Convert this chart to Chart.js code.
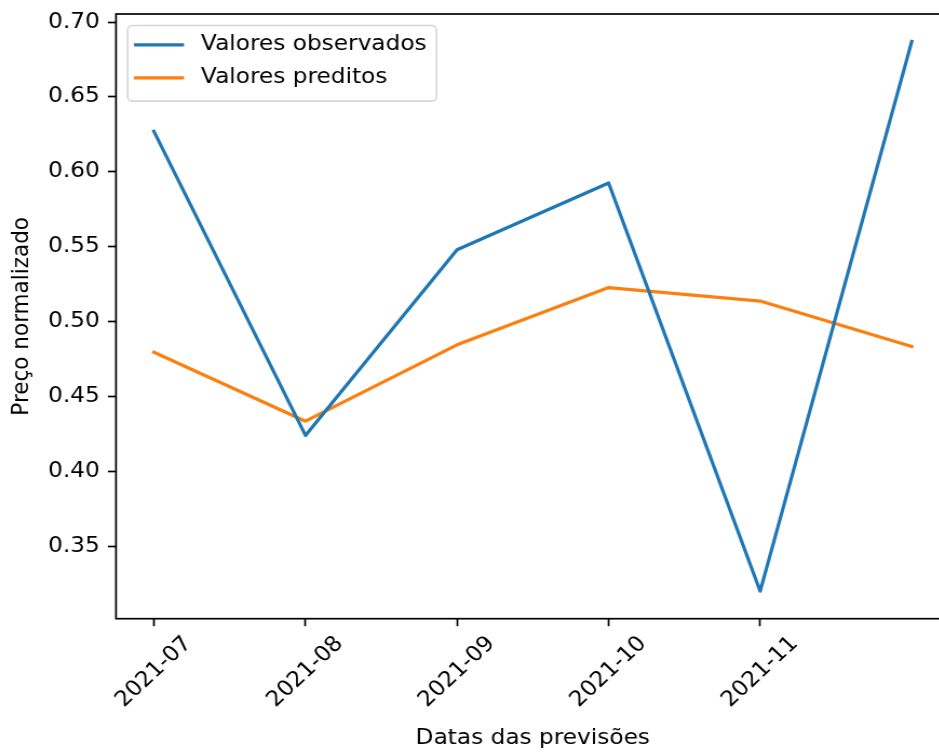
<!DOCTYPE html>
<html>
<head>
<meta charset="utf-8">
<title>Preço normalizado</title>
<script src="https://cdn.jsdelivr.net/npm/chart.js@4/dist/chart.umd.min.js"></script>
<style>
  html, body { margin: 0; padding: 0; background: #fff; overflow: hidden; width: 939px; height: 753px; }
  #wrap { width: 881px; height: 753px; transform: scaleX(1.08); transform-origin: 0 0; }
  canvas { display: block; }
</style>
</head>
<body>
<div id="wrap"><canvas id="c" width="881" height="753"></canvas></div>
<script>
// Monthly forecast dates (one point per month)
const dates = ['2021-07', '2021-08', '2021-09', '2021-10', '2021-11', '2021-12'];
// Labels shown under the x axis
const tickLabels = ['2021-07', '2021-08', '2021-09', '2021-10', '2021-11'];
// Normalized prices
const observed  = [0.627, 0.424, 0.548, 0.5925, 0.320, 0.687];
const predicted = [0.4795, 0.4335, 0.4845, 0.5227, 0.5137, 0.4834];
// Y axis tick values
const yTicks = [0.35, 0.40, 0.45, 0.50, 0.55, 0.60, 0.65, 0.70];

const seriesNames = ['Valores observados', 'Valores preditos'];
const seriesColors = ['#1f77b4', '#ff7f0e'];

const FONT = 'DejaVu Sans';
const FONT_SIZE = 21.5;
const TEXT = '#000000';
const X_ROTATION = 45;

// 5% padding around the data, like the default autoscale margins
function padded(lo, hi) { const m = (hi - lo) * 0.05; return [lo - m, hi + m]; }
const allValues = observed.concat(predicted);
const [yLo, yHi] = padded(Math.min(...allValues), Math.max(...allValues));
const [xLo, xHi] = padded(0, dates.length - 1);

const toPoints = vals => vals.map((v, i) => ({ x: i, y: v }));

// Shift rotated x labels so each one is centred under its tick
const measure = document.createElement('canvas').getContext('2d');
measure.font = FONT_SIZE + 'px "' + FONT + '"';
const xLabelShift = 0.5 * Math.cos(X_ROTATION * Math.PI / 180) * measure.measureText(tickLabels[0]).width;

// Four-sided axes frame
const framePlugin = {
  id: 'frame',
  afterDraw(chart) {
    const { ctx, chartArea: a } = chart;
    ctx.save();
    ctx.strokeStyle = '#000';
    ctx.lineWidth = 1.7;
    ctx.strokeRect(a.left, a.top, a.right - a.left, a.bottom - a.top);
    ctx.restore();
  }
};

// Legend box drawn inside the plot, upper left
const innerLegend = {
  id: 'innerLegend',
  afterDatasetsDraw(chart) {
    const { ctx, chartArea: a } = chart;
    const sets = chart.data.datasets;
    ctx.save();
    ctx.font = FONT_SIZE + 'px "' + FONT + '"';
    const maxW = Math.max(...sets.map(d => ctx.measureText(d.label).width));
    const x0 = a.left + 10.8, y0 = a.top + 11.5;
    const handleX = x0 + 5.9, handleLen = 46.3;
    const textX = handleX + handleLen + 15.7;
    const w = textX + maxW + 9 - x0;
    const rows = [19.3, 52.3];
    const h = 75.6;
    const r = 4.3;
    ctx.beginPath();
    ctx.moveTo(x0 + r, y0);
    ctx.lineTo(x0 + w - r, y0);
    ctx.arcTo(x0 + w, y0, x0 + w, y0 + r, r);
    ctx.lineTo(x0 + w, y0 + h - r);
    ctx.arcTo(x0 + w, y0 + h, x0 + w - r, y0 + h, r);
    ctx.lineTo(x0 + r, y0 + h);
    ctx.arcTo(x0, y0 + h, x0, y0 + h - r, r);
    ctx.lineTo(x0, y0 + r);
    ctx.arcTo(x0, y0, x0 + r, y0, r);
    ctx.closePath();
    ctx.fillStyle = 'rgba(255,255,255,0.8)';
    ctx.fill();
    ctx.strokeStyle = 'rgba(204,204,204,0.8)';
    ctx.lineWidth = 1.6;
    ctx.stroke();
    sets.forEach((d, i) => {
      const cy = y0 + rows[i];
      ctx.strokeStyle = d.borderColor;
      ctx.lineWidth = 3.2;
      ctx.lineCap = 'butt';
      ctx.beginPath();
      ctx.moveTo(handleX, cy);
      ctx.lineTo(handleX + handleLen, cy);
      ctx.stroke();
      ctx.fillStyle = TEXT;
      ctx.textBaseline = 'middle';
      ctx.textAlign = 'left';
      ctx.fillText(d.label, textX, cy);
    });
    ctx.restore();
  }
};

new Chart(document.getElementById('c'), {
  type: 'line',
  data: {
    datasets: [
      { label: seriesNames[0], data: toPoints(observed), borderColor: seriesColors[0] },
      { label: seriesNames[1], data: toPoints(predicted), borderColor: seriesColors[1] }
    ]
  },
  options: {
    responsive: false,
    animation: false,
    events: [],
    layout: { padding: { top: 14, right: 1.7, left: 0, bottom: 0 } },
    elements: {
      line: { borderWidth: 3.2, tension: 0, fill: false, borderJoinStyle: 'round', borderCapStyle: 'square' },
      point: { radius: 0, hoverRadius: 0 }
    },
    plugins: {
      legend: { display: false },
      tooltip: { enabled: false }
    },
    scales: {
      x: {
        type: 'linear',
        min: xLo,
        max: xHi,
        afterBuildTicks(scale) { scale.ticks = tickLabels.map((_, i) => ({ value: i })); },
        afterFit(scale) {
          scale.height = 753 - 618.7;
          scale.paddingLeft = 0; scale.paddingRight = 0;
        },
        border: { display: false },
        grid: { drawOnChartArea: false, drawTicks: true, tickLength: 7.5, tickColor: '#000', tickWidth: 1.7, color: 'rgba(0,0,0,0)' },
        ticks: {
          autoSkip: false,
          minRotation: X_ROTATION,
          maxRotation: X_ROTATION,
          padding: 5,
          labelOffset: xLabelShift,
          color: TEXT,
          font: { family: FONT, size: FONT_SIZE },
          callback: v => tickLabels[v]
        },
        title: {
          display: true,
          text: 'Datas das previsões',
          color: TEXT,
          font: { family: FONT, size: FONT_SIZE },
          padding: { top: 0, bottom: 2 }
        }
      },
      y: {
        type: 'linear',
        min: yLo,
        max: yHi,
        afterBuildTicks(scale) { scale.ticks = yTicks.map(v => ({ value: v })); },
        afterFit(scale) {
          scale.width = 107.4;
          scale.paddingTop = 0; scale.paddingBottom = 0;
        },
        border: { display: false },
        grid: { drawOnChartArea: false, drawTicks: true, tickLength: 7.5, tickColor: '#000', tickWidth: 1.7, color: 'rgba(0,0,0,0)' },
        ticks: {
          padding: 7.5,
          color: TEXT,
          font: { family: FONT, size: FONT_SIZE },
          callback: v => Number(v).toFixed(2)
        },
        title: {
          display: true,
          text: 'Preço normalizado',
          color: TEXT,
          font: { family: FONT, size: FONT_SIZE },
          padding: { top: 7.9, bottom: 0 }
        }
      }
    }
  },
  plugins: [framePlugin, innerLegend]
});
</script>
</body>
</html>
